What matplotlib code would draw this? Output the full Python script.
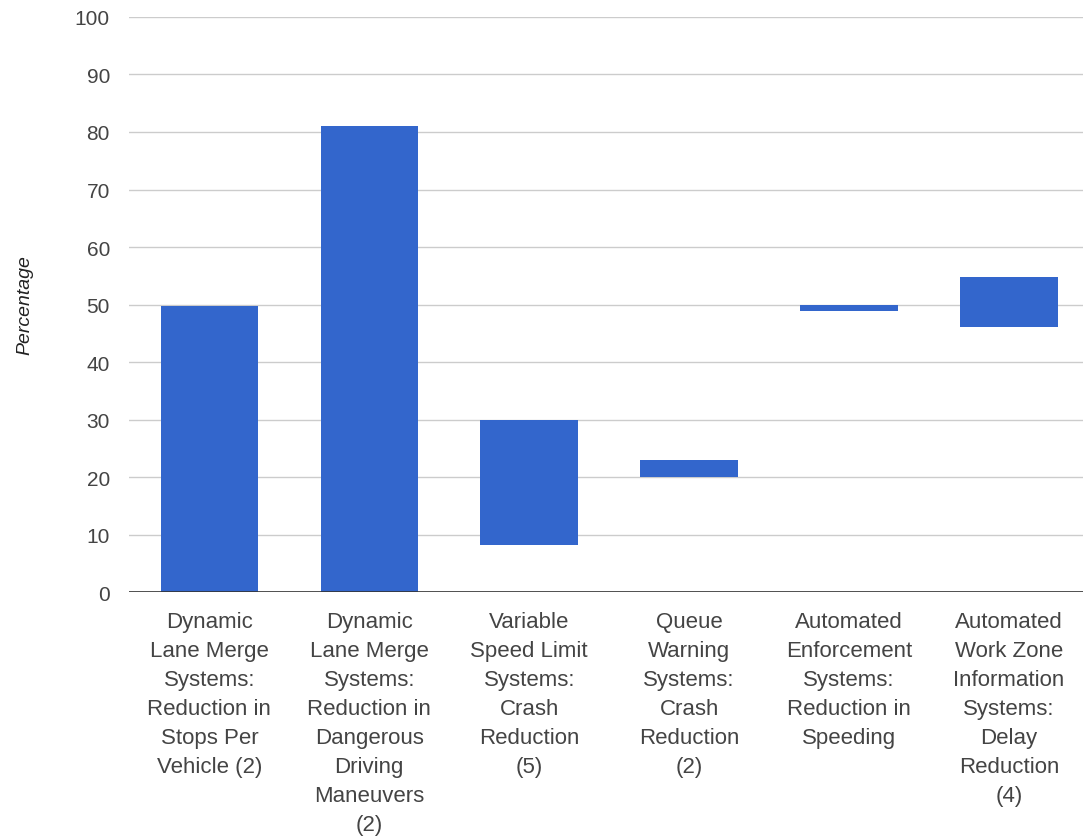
import matplotlib.pyplot as plt

plt.rcParams['font.family'] = ['Liberation Sans', 'DejaVu Sans']

categories = [
    "Dynamic\nLane Merge\nSystems:\nReduction in\nStops Per\nVehicle (2)",
    "Dynamic\nLane Merge\nSystems:\nReduction in\nDangerous\nDriving\nManeuvers\n(2)",
    "Variable\nSpeed Limit\nSystems:\nCrash\nReduction\n(5)",
    "Queue\nWarning\nSystems:\nCrash\nReduction\n(2)",
    "Automated\nEnforcement\nSystems:\nReduction in\nSpeeding",
    "Automated\nWork Zone\nInformation\nSystems:\nDelay\nReduction\n(4)",
]
low = [0, 0, 8.2, 20, 48.8, 46.1]
high = [49.8, 81, 30, 23, 50, 54.7]

fig = plt.figure(figsize=(10.83, 8.37), dpi=100)
ax = fig.add_axes([0.1195, 0.2915, 0.886, 0.687])

x = range(len(categories))
heights = [h - l for l, h in zip(low, high)]
ax.bar(x, heights, bottom=low, width=0.61, color='#3366CC', zorder=3)

ax.set_xlim(-0.5, 5.5)
ax.set_ylim(0, 100)
ax.set_yticks(range(0, 101, 10))
ax.grid(axis='y', color='#CCCCCC', linewidth=1, zorder=0)
ax.axhline(0, color='#333333', linewidth=1.2, zorder=4)
for s in ax.spines.values():
    s.set_visible(False)
ax.tick_params(axis='both', length=0, colors='#444444')
ax.tick_params(axis='y', pad=14, labelsize=15)
ax.set_xticks(list(x))
ax.set_xticklabels(categories, linespacing=1.5, va='top', fontsize=16)
ax.tick_params(axis='x', pad=14)
ax.set_ylabel('Percentage', fontstyle='italic', fontsize=14, color='#222222', labelpad=30)

fig.savefig('out.png', dpi=100)
